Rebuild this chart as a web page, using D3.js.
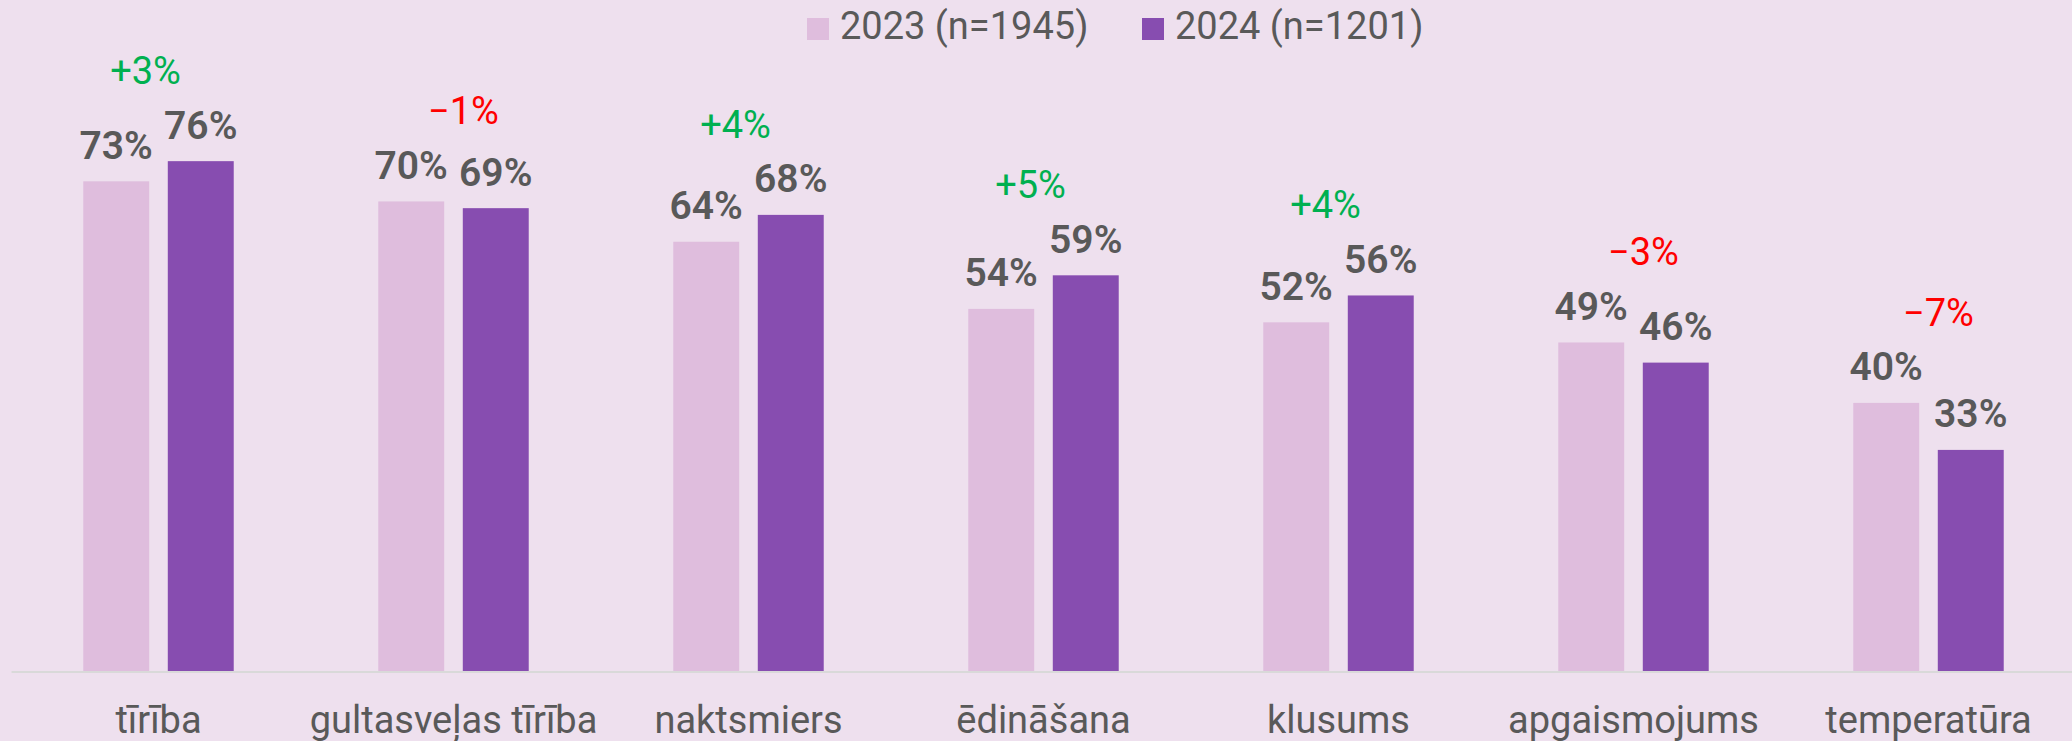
<!DOCTYPE html>
<html>
<head>
<meta charset="utf-8">
<script src="https://cdn.jsdelivr.net/npm/d3@7"></script>
<style>
  html, body { margin: 0; padding: 0; background: #EEE0EE; }
  svg { display: block; font-family: Roboto, "Noto Sans", sans-serif; }
  .axis .domain { stroke: #D9D9D9; stroke-width: 2; }
  .axis text { fill: #595959; font-size: 38px; }
  .value-label { fill: #595959; font-size: 39px; font-weight: 600; text-anchor: middle; }
  .diff-label { font-size: 38px; text-anchor: middle; }
  .legend-text { fill: #595959; font-size: 38px; }
</style>
</head>
<body>
<svg id="chart"></svg>
<script>
const CATEGORIES = ["tīrība", "gultasveļas tīrība", "naktsmiers", "ēdināšana", "klusums", "apgaismojums", "temperatūra"];
const SERIES = ["2023 (n=1945)", "2024 (n=1201)"];
const VALUES_2023 = [73, 70, 64, 54, 52, 49, 40];
const VALUES_2024 = [76, 69, 68, 59, 56, 46, 33];
const SERIES_COLORS = ["#DFBDDD", "#874DB0"];

const WIDTH = 2072;
const HEIGHT = 741;
const BASELINE = 671.5;

const svg = d3.select("#chart")
              .attr("width", WIDTH)
              .attr("height", HEIGHT);

let x0 = d3.scaleBand().domain(CATEGORIES).range([11, 2076]).padding(0);
let x1 = d3.scaleBand().domain(SERIES).range([0, x0.bandwidth()])
           .paddingInner(0.22).paddingOuter(0.855);
let y = d3.scaleLinear().domain([0, 100]).range([BASELINE, 0]);

const rows = CATEGORIES.map((c, i) => ({
  category: c,
  values: [VALUES_2023[i], VALUES_2024[i]],
  diff: VALUES_2024[i] - VALUES_2023[i]
}));


/*
  Bars plus the value label over each one.
*/
const groups = svg.append("g")
                  .selectAll("g")
                  .data(rows)
                  .enter().append("g")
                  .attr("transform", d => `translate(${x0(d.category)},0)`);

groups.selectAll("rect")
      .data(d => d.values.map((v, i) => ({series: SERIES[i], value: v, idx: i})))
      .enter().append("rect")
      .attr("x", d => x1(d.series))
      .attr("y", d => y(d.value))
      .attr("width", x1.bandwidth())
      .attr("height", d => BASELINE - y(d.value))
      .attr("fill", d => SERIES_COLORS[d.idx]);

groups.selectAll(".value-label")
      .data(d => d.values.map((v, i) => ({series: SERIES[i], value: v})))
      .enter().append("text")
      .attr("class", "value-label")
      .attr("x", d => x1(d.series) + x1.bandwidth() / 2)
      .attr("y", d => y(d.value) - 22.5)
      .text(d => d.value + "%");


/*
  Change between the two years, above each group.
*/
groups.append("text")
      .attr("class", "diff-label")
      .attr("x", d => x0.bandwidth() / 2 + (d.diff >= 0 ? -13 : 10))
      .attr("y", d => y(d3.max(d.values)) - 77)
      .attr("fill", d => d.diff >= 0 ? "#00B050" : "#FF0000")
      .text(d => (d.diff >= 0 ? "+" : "\u2212") + Math.abs(d.diff) + "%");


/*
  Category axis along the bottom.
*/
svg.append("g")
   .attr("class", "axis")
   .attr("transform", `translate(0,${BASELINE})`)
   .call(d3.axisBottom(x0).tickSize(0).tickPadding(35))
   .call(g => g.selectAll(".tick text").attr("font-family", null).attr("font-size", null));

svg.select(".axis").attr("font-family", null).attr("font-size", null);


/*
  Legend at the top.
*/
const LEGEND_X = [807, 1142];
const legend = svg.append("g")
                  .selectAll("g")
                  .data(SERIES)
                  .enter().append("g")
                  .attr("transform", (d, i) => `translate(${LEGEND_X[i]},18)`);

legend.append("rect")
      .attr("width", 22)
      .attr("height", 22)
      .attr("fill", (d, i) => SERIES_COLORS[i]);

legend.append("text")
      .attr("class", "legend-text")
      .attr("x", 33)
      .attr("y", 20.5)
      .text(d => d);
</script>
</body>
</html>
